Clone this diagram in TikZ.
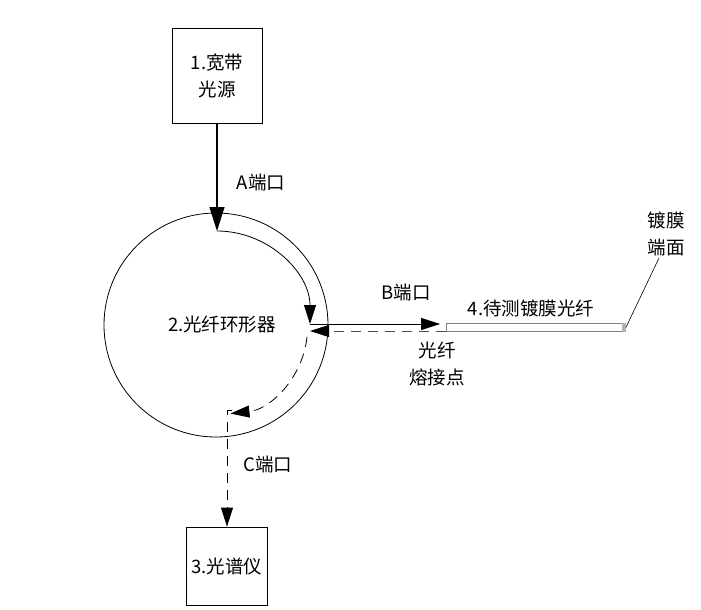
\documentclass[tikz,border=0pt]{standalone}
\usepackage{fontspec}
\usepackage{tikz}
\usetikzlibrary{arrows.meta,positioning}
\newfontfamily\cjk{Noto Sans CJK SC}

\begin{document}
\begin{tikzpicture}[x=1pt, y=1pt,
    font=\cjk\fontsize{18.5}{27}\selectfont,
    devbox/.style={draw, line width=0.8pt, align=center, inner sep=0pt},
    flow/.style={-{Triangle[length=19pt, width=12pt, color=black]}},
    bigflow/.style={-{Triangle[length=24pt, width=15pt]}},
    dashline/.style={dash pattern=on 10pt off 7pt, line width=0.8pt}]

    \useasboundingbox (0,0) rectangle (701,-610);

    % Devices
    \node[devbox, minimum width=90pt, minimum height=95pt] (src) at (217,-75.5) {1.宽带\\光源};
    \node[circle, draw, line width=0.8pt, minimum size=224pt, inner sep=0pt] (circ) at (216,-325) {};
    \node (circlab) at (222,-325) {2.光纤环形器};
    \node[devbox, minimum width=81pt, minimum height=78pt] (spec) at (227,-566) {3.光谱仪};

    % Fiber under test
    \node[draw=gray, line width=0.8pt, fill=white, minimum width=179pt, minimum height=8pt, inner sep=0pt] (fiber) at (536,-327.5) {};
    \fill[gray!60] ([xshift=-4pt]fiber.north east) rectangle (fiber.south east);

    % Points on the ring
    \coordinate (ain) at (217,-231);
    \coordinate (bout) at (310,-324);
    \coordinate (bin) at (310,-331);
    \coordinate (carc) at (307,-337);
    \coordinate (cout) at (227,-410);
    \coordinate (ctip) at (659,-258);

    % A port: source into ring
    \draw[bigflow, line width=1.2pt] (src) -- (ain);
    \draw[flow, line width=0.8pt] (ain) arc[start angle=90, end angle=0, radius=93];

    % B port: out to fiber and back
    \draw[flow, line width=0.8pt, shorten >=6pt] (bout) -- (fiber.west |- bout);
    \draw[flow, dashline, black!70] (fiber.west |- bin) -- (bin);
    \draw[flow, dashline] (carc) arc[start angle=-6, end angle=-84, radius=86];

    % C port: down to spectrometer
    \draw[flow, dashline] ([xshift=5pt]cout) -- (cout) -- (spec.north);

    % Labels
    \node (alab) at (261,-183) {A端口};
    \node (blab) at (406,-293) {B端口};
    \node (clab) at (268,-465) {C端口};
    \node[align=center] (splice) at (437,-364) {光纤\\熔接点};
    \node (fiblab) at (531,-308) {4.待测镀膜光纤};
    \node[align=center] (coat) at (666,-234) {镀膜\\端面};
    \draw[line width=0.6pt] (fiber.east) -- (ctip);
\end{tikzpicture}
\end{document}
